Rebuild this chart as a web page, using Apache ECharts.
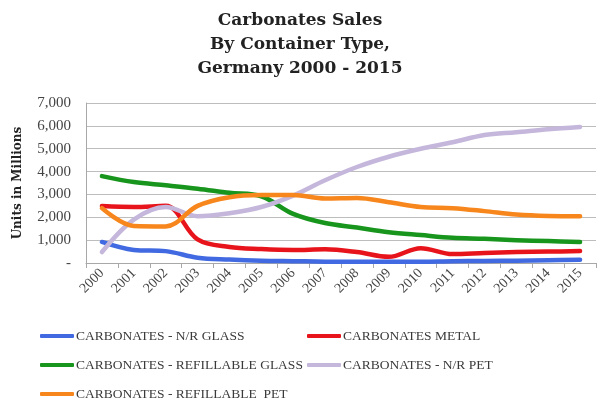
<!DOCTYPE html>
<html>
<head>
<meta charset="utf-8">
<script src="https://cdn.jsdelivr.net/npm/echarts@6/dist/echarts.min.js"></script>
<style>
  html, body { margin: 0; padding: 0; background: #fff; }
  #chart { width: 600px; height: 401px; }
</style>
</head>
<body>
<div id="chart"></div>
<script>
// Years on the category axis
const years = ['2000','2001','2002','2003','2004','2005','2006','2007','2008','2009','2010','2011','2012','2013','2014','2015'];

// Units in millions per container type
const nrGlass        = [920, 570, 520, 230, 150, 100, 80, 60, 60, 60, 60, 80, 90, 100, 120, 140];
const metal          = [2490, 2450, 2500, 1030, 700, 610, 570, 600, 480, 270, 650, 390, 440, 480, 500, 520];
const refillGlass    = [3800, 3540, 3400, 3250, 3070, 2920, 2150, 1750, 1550, 1350, 1220, 1100, 1060, 1000, 960, 920];
const nrPet          = [480, 1900, 2450, 2050, 2180, 2450, 2950, 3620, 4200, 4650, 5000, 5280, 5600, 5720, 5850, 5950];
const refillPet      = [2400, 1620, 1600, 2500, 2880, 2970, 2970, 2820, 2840, 2660, 2450, 2400, 2270, 2120, 2060, 2050];

// Value-axis ticks
const yTicks = [0, 1000, 2000, 3000, 4000, 5000, 6000, 7000];

const serif = '"Liberation Serif", "DejaVu Serif", serif';
const boldSerif = '"DejaVu Serif", "Liberation Serif", serif';

const seriesDefs = [
  { name: 'CARBONATES - N/R GLASS',          data: nrGlass,     color: '#4169e1' },
  { name: 'CARBONATES METAL',                data: metal,       color: '#e8141c' },
  { name: 'CARBONATES - REFILLABLE GLASS',   data: refillGlass, color: '#18951c' },
  { name: 'CARBONATES - N/R PET',            data: nrPet,       color: '#c4b7db' },
  { name: 'CARBONATES - REFILLABLE  PET',    data: refillPet,   color: '#f7861c' }
];

// Legend laid out two per row, one legend component per entry
const legendSlots = [
  { left: 40,  top: 329 },
  { left: 307, top: 329 },
  { left: 40,  top: 358 },
  { left: 307, top: 358 },
  { left: 40,  top: 387 }
];

const chart = echarts.init(document.getElementById('chart'), null, { renderer: 'canvas' });

const legendText = { fontFamily: serif, fontSize: 13.5, color: '#3a3a3a', padding: [0, 0, 0, -3] };

chart.setOption({
  animation: false,
  backgroundColor: '#ffffff',
  title: {
    text: 'Carbonates Sales\nBy Container Type,\nGermany 2000 - 2015',
    left: 'center',
    top: 4,
    textStyle: { fontFamily: boldSerif, fontWeight: 'bold', fontSize: 17, lineHeight: 24, color: '#222' }
  },
  grid: { left: 86, right: 4, top: 103, height: 160 },
  legend: seriesDefs.map((s, i) => ({
    left: legendSlots[i].left,
    top: legendSlots[i].top,
    padding: 0,
    itemWidth: 34, itemHeight: 4, icon: 'roundRect',
    textStyle: legendText,
    data: [s.name]
  })),
  xAxis: {
    type: 'category',
    data: years,
    boundaryGap: true,
    axisLine: { lineStyle: { color: '#a8a8a8' } },
    axisTick: { show: true, alignWithLabel: false, lineStyle: { color: '#a8a8a8' } },
    axisLabel: { rotate: 45, fontFamily: serif, fontSize: 14, color: '#444', margin: 8 }
  },
  yAxis: {
    type: 'value',
    min: yTicks[0],
    max: yTicks[yTicks.length - 1],
    interval: 1000,
    name: 'Units in Millions',
    nameLocation: 'middle',
    nameGap: 62,
    nameTextStyle: { fontFamily: boldSerif, fontWeight: 'bold', fontSize: 12, color: '#222' },
    axisLine: { show: true, lineStyle: { color: '#a8a8a8' } },
    axisTick: { show: false },
    splitLine: { lineStyle: { color: '#bdbdbd', width: 1 } },
    axisLabel: {
      fontFamily: serif, fontSize: 15, color: '#444', margin: 15,
      formatter: v => v === 0 ? '-' : v.toLocaleString('en-US')
    }
  },
  series: seriesDefs.map(s => ({
    name: s.name,
    type: 'line',
    data: s.data,
    smooth: 0.35,
    symbol: 'none',
    color: s.color,
    lineStyle: { width: 4.5, color: s.color, cap: 'round', join: 'round' }
  }))
});
</script>
</body>
</html>
